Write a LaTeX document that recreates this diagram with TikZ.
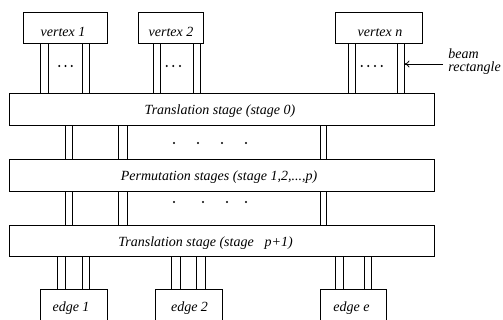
\documentclass[tikz,border=0pt]{standalone}
\usepackage{fontspec}
\setmainfont{Liberation Serif}
\usetikzlibrary{arrows.meta}
\begin{document}
\begin{tikzpicture}[x=1pt,y=-1pt,line width=0.8pt,
  box/.style={draw,rectangle,inner sep=0pt,anchor=north west},
  txt/.style={font=\itshape\fontsize{14}{16}\selectfont,inner sep=0pt,anchor=base},
  dotmark/.style={fill,circle,inner sep=0pt,minimum size=2.2pt}]
\clip (0,0) rectangle (503,320);
% vertex boxes
\node[box,minimum width=84pt,minimum height=31pt] (v1) at (23,12) {};
\node[box,minimum width=65pt,minimum height=31pt] (v2) at (138,12) {};
\node[box,minimum width=87pt,minimum height=31.5pt] (vn) at (335,12) {};
% stage boxes
\node[box,minimum width=425pt,minimum height=32pt] (s0) at (9,93) {};
\node[box,minimum width=425pt,minimum height=32pt] (s1) at (9,159) {};
\node[box,minimum width=425pt,minimum height=31pt] (s2) at (9,225) {};
% edge boxes
\node[box,minimum width=67pt,minimum height=45pt] (e1) at (40,289) {};
\node[box,minimum width=67pt,minimum height=45pt] (e2) at (155,289) {};
\node[box,minimum width=66pt,minimum height=45pt] (ee) at (320,289) {};
% texts
\node[txt] (tv1) at (63,36.5) {vertex 1};
\node[txt] (tv2) at (171,36.5) {vertex 2};
\node[txt] (tvn) at (380,37) {vertex n};
\node[txt] (ts0) at (220,114.5) {Translation stage (stage 0)};
\node[txt] (ts1) at (219,181) {Permutation stages (stage 1,2,...,p)};
\node[txt,anchor=base west] (ts2) at (118,246.5) {Translation stage (stage\hspace{11pt}p+1)};
\node[txt] (te1) at (71,311.5) {edge 1};
\node[txt] (te2) at (189.5,311.5) {edge 2};
\node[txt] (tee) at (351.5,311.5) {edge e};
\node[txt,anchor=base west,align=left,font=\itshape\fontsize{14}{13}\selectfont] (lbl) at (448,72) {beam\\rectangle};
% beams vertex -> stage 0
\foreach \x in {40,48,82,89} \draw (\x,0 |- v1.south) -- (\x,0 |- s0.north);
\foreach \x in {153,160,193.5,200.5} \draw (\x,0 |- v2.south) -- (\x,0 |- s0.north);
\foreach \x in {348,355,397,404} \draw (\x,0 |- vn.south) -- (\x,0 |- s0.north);
% beams between stages
\foreach \x in {65,72,118,127.5,320,326} {
  \draw (\x,0 |- s0.south) -- (\x,0 |- s1.north);
  \draw (\x,0 |- s1.south) -- (\x,0 |- s2.north);
}
% beams stage p+1 -> edges
\foreach \x in {57,65,82,89} \draw (\x,0 |- s2.south) -- (\x,0 |- e1.north);
\foreach \x in {171,180,196,205} \draw (\x,0 |- s2.south) -- (\x,0 |- e2.north);
\foreach \x in {335,343,364,371} \draw (\x,0 |- s2.south) -- (\x,0 |- ee.north);
% dots in vertex beams
\foreach \x in {59.3,65.5,71.7} \node[dotmark] at (\x,66) {};
\foreach \x in {166.7,173.3,180} \node[dotmark] at (\x,66) {};
\foreach \x in {361.7,368.3,375,381.7} \node[dotmark] at (\x,66) {};
% dots between stages
\foreach \x in {174,198,222,246} \node[dotmark] at (\x,143) {};
\foreach \x in {174,203,227,246} \node[dotmark] at (\x,202) {};
% arrow to beam rectangle
\coordinate (atail) at (443,64);
\coordinate (ahead) at (404.5,64);
\draw[-{To[length=5pt,width=7pt]}] (atail) -- (ahead);
\end{tikzpicture}
\end{document}
